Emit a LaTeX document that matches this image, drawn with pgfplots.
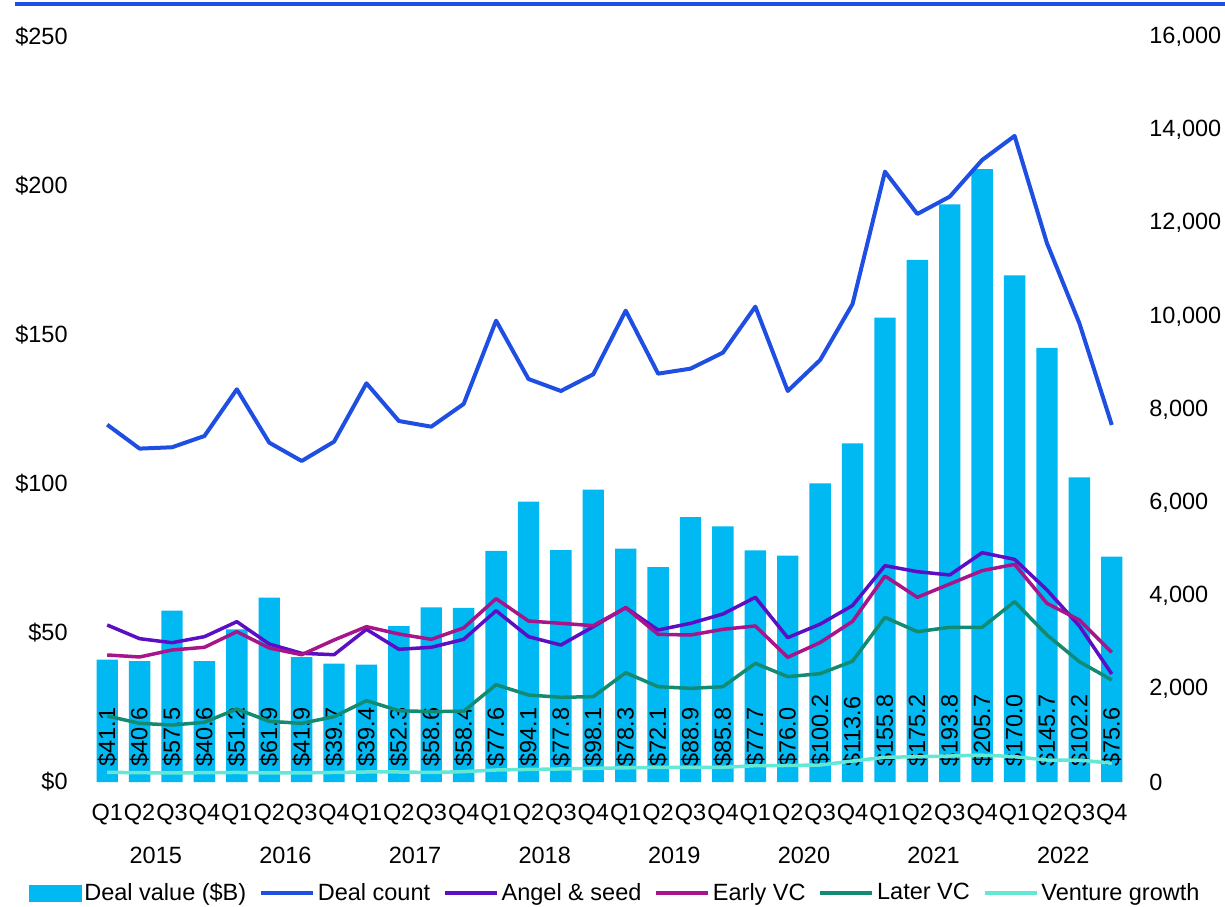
\documentclass[border=0pt]{standalone}
\usepackage{fontspec}
\setmainfont{Liberation Sans}
\usepackage{pgfplots}
\pgfplotsset{compat=1.18}
\usepackage{pgfplotstable}
\definecolor{barcol}{RGB}{0,185,242}
\definecolor{dealcol}{RGB}{31,78,226}
\definecolor{angelcol}{RGB}{91,14,196}
\definecolor{earlycol}{RGB}{168,20,138}
\definecolor{latercol}{RGB}{18,139,114}
\definecolor{vgcol}{RGB}{100,232,214}
\newcommand{\fs}{\fontsize{11.75pt}{14pt}\selectfont}
\pgfplotstableread{
x v dc as ev lv vg
0 41.1 7674 3372 2728 1418 208
1 40.6 7160 3078 2685 1260 200
2 57.5 7189 2992 2835 1224 195
3 40.6 7431 3121 2893 1282 200
4 51.2 8434 3443 3229 1568 205
5 61.9 7288 2964 2878 1303 195
6 41.9 6894 2764 2734 1260 195
7 39.7 7309 2734 3050 1403 205
8 39.4 8563 3279 3336 1747 215
9 52.3 7753 2850 3179 1532 215
10 58.6 7631 2893 3064 1511 205
11 58.4 8119 3064 3310 1520 222
12 77.6 9908 3679 3937 2090 258
13 94.1 8655 3121 3458 1869 270
14 77.8 8398 2942 3408 1819 280
15 98.1 8756 3336 3358 1833 294
16 78.3 10123 3744 3744 2348 305
17 72.1 8770 3265 3171 2047 315
18 88.9 8877 3408 3157 2011 315
19 85.8 9221 3608 3279 2047 315
20 77.7 10209 3966 3351 2549 351
21 76.0 8398 3100 2678 2262 355
22 100.2 9063 3390 2995 2327 365
23 113.6 10266 3790 3450 2595 451
24 155.8 13108 4646 4424 3537 530
25 175.2 12199 4517 3966 3229 544
26 193.8 12572 4446 4253 3322 558
27 205.7 13359 4925 4539 3322 580
28 170.0 13875 4782 4675 3873 544
29 145.7 11570 4124 3837 3157 472
30 102.2 9852 3351 3479 2584 472
31 75.6 7668 2320 2785 2191 401
}\data
\begin{document}
\begin{tikzpicture}
\useasboundingbox (-45.5pt,-62pt) rectangle (567pt,391pt);
\draw[dealcol, line width=2pt] (-38pt,389pt) -- (567pt,389pt);
\pgfplotsset{
  base/.style={scale only axis, width=518.5pt, height=372.5pt,
    at={(0pt,0pt)}, anchor=south west, xmin=-0.5, xmax=31.5,
    axis line style={draw=none}, major tick length=0pt,
    tick label style={font=\fs, inner sep=0pt},
    /pgf/number format/assume math mode=true, clip=false}
}
\begin{axis}[base, ymin=0, ymax=250, ytick={0,50,...,250},
  yticklabel={\$\pgfmathprintnumber{\tick}},
  yticklabel style={xshift=-11.5pt},
  xtick={0,...,31},
  xticklabels={Q1,Q2,Q3,Q4,Q1,Q2,Q3,Q4,Q1,Q2,Q3,Q4,Q1,Q2,Q3,Q4,Q1,Q2,Q3,Q4,Q1,Q2,Q3,Q4,Q1,Q2,Q3,Q4,Q1,Q2,Q3,Q4},
  xticklabel style={anchor=base, yshift=-19.25pt},
  extra x ticks={1.5,5.5,9.5,13.5,17.5,21.5,25.5,29.5},
  extra x tick labels={2015,2016,2017,2018,2019,2020,2021,2022},
  extra x tick style={xticklabel style={yshift=-21.5pt}}]
\addplot[ybar, bar width=0.66, fill=barcol, draw=none] table[x=x,y=v]{\data};
\addplot[only marks, mark=none, point meta=\thisrow{v},
  nodes near coords={\$\pgfmathprintnumber[fixed,fixed zerofill,precision=1]{\pgfplotspointmeta}},
  nodes near coords style={rotate=90, anchor=west, font=\fs, inner sep=0pt, text=black}]
  table[x=x, y expr=5]{\data};
\end{axis}
\begin{axis}[base, ymin=0, ymax=16000, ytick={0,2000,...,16000},
  axis y line*=right, xtick=\empty, scaled y ticks=false,
  /pgf/number format/1000 sep={,},
  yticklabel style={xshift=10.5pt},
  legend columns=6,
  legend cell align=left,
  legend image code/.code={\draw[#1, line width=1.75pt] (0pt,0pt) -- (26pt,0pt);},
  legend style={at={(0.5,-0.149)}, anchor=center, xshift=3pt, draw=none, font=\fs,
    fill=none, inner sep=0pt, nodes={inner sep=1.5pt},
    /tikz/every even column/.append style={column sep=5pt}}]
\addlegendimage{legend image code/.code={\fill[barcol] (0pt,-4pt) rectangle (26pt,4pt);}}
\addlegendentry{Deal value (\$B)}
\addplot[dealcol, line width=2pt, line join=round] table[x=x,y=dc]{\data};
\addlegendentry{Deal count}
\addplot[angelcol, line width=1.75pt, line join=round] table[x=x,y=as]{\data};
\addlegendentry{Angel \& seed}
\addplot[earlycol, line width=1.75pt, line join=round] table[x=x,y=ev]{\data};
\addlegendentry{Early VC}
\addplot[latercol, line width=1.75pt, line join=round] table[x=x,y=lv]{\data};
\addlegendentry{Later VC}
\addplot[vgcol, line width=1.75pt, line join=round] table[x=x,y=vg]{\data};
\addlegendentry{Venture growth}
\end{axis}
\end{tikzpicture}
\end{document}
